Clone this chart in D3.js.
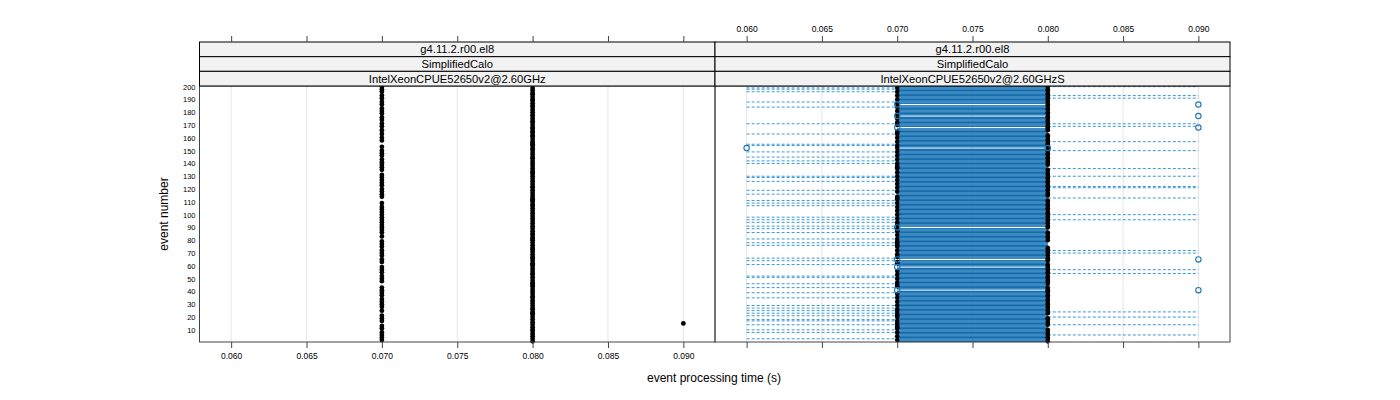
<!DOCTYPE html>
<html><head><meta charset="utf-8">
<script src="https://cdn.jsdelivr.net/npm/d3@7/dist/d3.min.js"></script>
<style>body{margin:0;background:#fff}svg{display:block}text{font-family:"Liberation Sans",Arial,sans-serif}</style>
</head><body><svg id="c" width="1400" height="400"></svg>
<script>
// ---------- data ----------
const xTicks = [0.060, 0.065, 0.070, 0.075, 0.080, 0.085, 0.090];
const yTicks = [10,20,30,40,50,60,70,80,90,100,110,120,130,140,150,160,170,180,190,200];
const nEvents = 200;
const stripLeft  = ["g4.11.2.r00.el8", "SimplifiedCalo", "IntelXeonCPUE52650v2@2.60GHz"];
const stripRight = ["g4.11.2.r00.el8", "SimplifiedCalo", "IntelXeonCPUE52650v2@2.60GHzS"];
const xLabel = "event processing time (s)";
const yLabel = "event number";

// left panel: one time per event (0.08 unless listed)
const left070Events = [200,198,196,193,191,188,186,183,181,179,176,174,171,169,166,163,160,158,153,150,148,146,143,141,139,137,135,131,129,127,125,123,120,118,116,114,109,106,104,102,100,98,96,94,92,90,88,86,83,79,77,75,72,70,68,65,63,59,57,55,52,50,48,43,41,39,37,34,32,30,28,25,21,19,17,13,11,8,6,4,2];
const left090Events = [15];

// right panel: per-event box (Q1 0.07, Q3 0.08), medians, whiskers, outliers
const boxLow = 0.07, boxHigh = 0.08;
const collapsedEvents = [186,177,168,152,90,65,59,41];
const collapsedMedian = [0.08,0.08,0.08,0.07,0.08,0.08,0.08,0.08];
const median070Events = [199,196,193,190,187,184,181,178,175,172,170,165,164,163,160,157,154,152,149,146,143,140,138,137,136,133,130,127,124,121,118,114,113,112,109,106,103,100,97,94,92,89,88,87,84,81,79,78,77,76,75,72,69,67,63,62,56,53,50,47,45,44,38,35,32,29,26,24,22,21,20,17,15,13,12,11,8,5,2];
const lowWhiskerEvents = [199,198,196,188,184,171,163,155,154,149,145,142,140,130,129,126,119,116,111,109,107,98,96,94,91,89,86,81,78,76,66,64,61,52,51,46,43,39,35,29,27,25,23,21,18,17,14,10,8,3];
const lowWhiskerEnd = 0.06;
const highWhiskerEvents = [200,193,191,171,169,157,150,136,130,122,121,113,100,96,72,70,57,54,24,20,14,6];
const highWhiskerEnd = 0.09;
const outlierEvents = [186,186,177,177,168,168,152,152,90,65,65,59,41,41];
const outlierTimes  = [0.07,0.09,0.07,0.09,0.07,0.09,0.06,0.08,0.07,0.07,0.09,0.07,0.07,0.09];

// ---------- layout ----------
const svg = d3.select("#c");
const yTop = 86, yBot = 342;
const panels = [{x0: 199.5, x1: 715, strip: stripLeft}, {x0: 715, x1: 1230, strip: stripRight}];
const xDomain = [0.0579, 0.0921];
const y = d3.scaleLinear().domain([0.5, nEvents + 0.5]).range([yBot, yTop]);
const events = d3.range(1, nEvents + 1);
panels.forEach(p => p.x = d3.scaleLinear().domain(xDomain).range([p.x0, p.x1]));

const fmt = d3.format(".3f");
const blue = "#1f77b4";

panels.forEach((p, i) => {
  const g = svg.append("g");
  g.selectAll("line.grid").data(xTicks).enter().append("line")
    .attr("x1", d => p.x(d)).attr("x2", d => p.x(d))
    .attr("y1", yTop).attr("y2", yBot)
    .attr("stroke", "#e6e6e6").attr("stroke-width", 1);
});

// left panel points
(function(){
  const p = panels[0];
  const vals = events.map(e => ({e, v: left090Events.includes(e) ? 0.09 : (left070Events.includes(e) ? 0.07 : 0.08)}));
  svg.append("g").selectAll("circle").data(vals).enter().append("circle")
    .attr("cx", d => p.x(d.v)).attr("cy", d => y(d.e)).attr("r", 2.4).attr("fill", "#000");
})();

// right panel boxplots
(function(){
  const p = panels[1];
  const g = svg.append("g");
  const h = y(0) - y(1);
  const boxEvents = events.filter(e => !collapsedEvents.includes(e));
  g.selectAll("rect.box").data(boxEvents).enter().append("rect")
    .attr("x", p.x(boxLow)).attr("width", p.x(boxHigh) - p.x(boxLow))
    .attr("y", d => y(d) - h / 2).attr("height", h)
    .attr("fill", "#156aa8").attr("stroke", "#3a92d2").attr("stroke-width", 0.25);
  g.selectAll("line.lw").data(lowWhiskerEvents).enter().append("line")
    .attr("x1", p.x(lowWhiskerEnd)).attr("x2", p.x(boxLow))
    .attr("y1", d => y(d)).attr("y2", d => y(d))
    .attr("stroke", "#3b98d8").attr("stroke-width", 1).attr("stroke-dasharray", "3,2");
  g.selectAll("line.hw").data(highWhiskerEvents).enter().append("line")
    .attr("x1", p.x(boxHigh)).attr("x2", p.x(highWhiskerEnd))
    .attr("y1", d => y(d)).attr("y2", d => y(d))
    .attr("stroke", "#3b98d8").attr("stroke-width", 1).attr("stroke-dasharray", "3,2");
  const meds = events.map(e => {
    const ci = collapsedEvents.indexOf(e);
    const v = ci >= 0 ? collapsedMedian[ci] : (median070Events.includes(e) ? 0.07 : 0.08);
    return {e, v};
  });
  g.selectAll("circle.med").data(meds).enter().append("circle")
    .attr("cx", d => p.x(d.v)).attr("cy", d => y(d.e)).attr("r", 2.3).attr("fill", "#000");
  const outs = outlierEvents.map((e, k) => ({e, v: outlierTimes[k]}));
  g.selectAll("circle.out").data(outs).enter().append("circle")
    .attr("cx", d => p.x(d.v)).attr("cy", d => y(d.e)).attr("r", 2.7)
    .attr("fill", "none").attr("stroke", blue).attr("stroke-width", 1.1);
})();

// borders, strips, axes
panels.forEach((p, i) => {
  svg.append("rect").attr("x", p.x0).attr("y", yTop).attr("width", p.x1 - p.x0).attr("height", yBot - yTop)
    .attr("fill", "none").attr("stroke", "#444").attr("stroke-width", 1);
  const sh = (yTop - 42) / 3;
  p.strip.forEach((t, k) => {
    const sy = 42 + k * sh;
    svg.append("rect").attr("x", p.x0).attr("y", sy).attr("width", p.x1 - p.x0).attr("height", sh)
      .attr("fill", "#f2f2f2").attr("stroke", "#000").attr("stroke-width", 1);
    svg.append("text").attr("x", (p.x0 + p.x1) / 2).attr("y", sy + sh / 2 + 4)
      .attr("text-anchor", "middle").attr("font-size", 11.2).attr("fill", "#000").text(t);
  });
  const top = svg.append("g").attr("transform", `translate(0,42)`)
    .call(d3.axisTop(p.x).tickValues(xTicks).tickSize(6).tickPadding(4).tickFormat(i === 1 ? fmt : () => ""));
  const bot = svg.append("g").attr("transform", `translate(0,${yBot})`)
    .call(d3.axisBottom(p.x).tickValues(xTicks).tickSize(6).tickPadding(5).tickFormat(i === 0 ? fmt : () => ""));
  [top, bot].forEach(a => {
    a.select(".domain").remove();
    a.selectAll(".tick line").attr("stroke", "#444");
    a.selectAll(".tick text").attr("font-size", 8.5).attr("fill", "#000").attr("font-family", "Liberation Sans, Arial, sans-serif");
  });
});

// y axis
const ya = svg.append("g").attr("transform", `translate(${panels[0].x0},0)`)
  .call(d3.axisLeft(y).tickValues(yTicks).tickSize(0).tickPadding(4).tickFormat(d3.format("d")));
ya.select(".domain").remove();
ya.selectAll(".tick text").attr("font-size", 7.5).attr("fill", "#000").attr("font-family", "Liberation Sans, Arial, sans-serif");

svg.append("text").attr("x", 714).attr("y", 382).attr("text-anchor", "middle").attr("font-size", 12).text(xLabel);
svg.append("text").attr("transform", `translate(168,${(yTop + yBot) / 2}) rotate(-90)`).attr("text-anchor", "middle")
  .attr("font-size", 12).text(yLabel);
</script></body></html>
